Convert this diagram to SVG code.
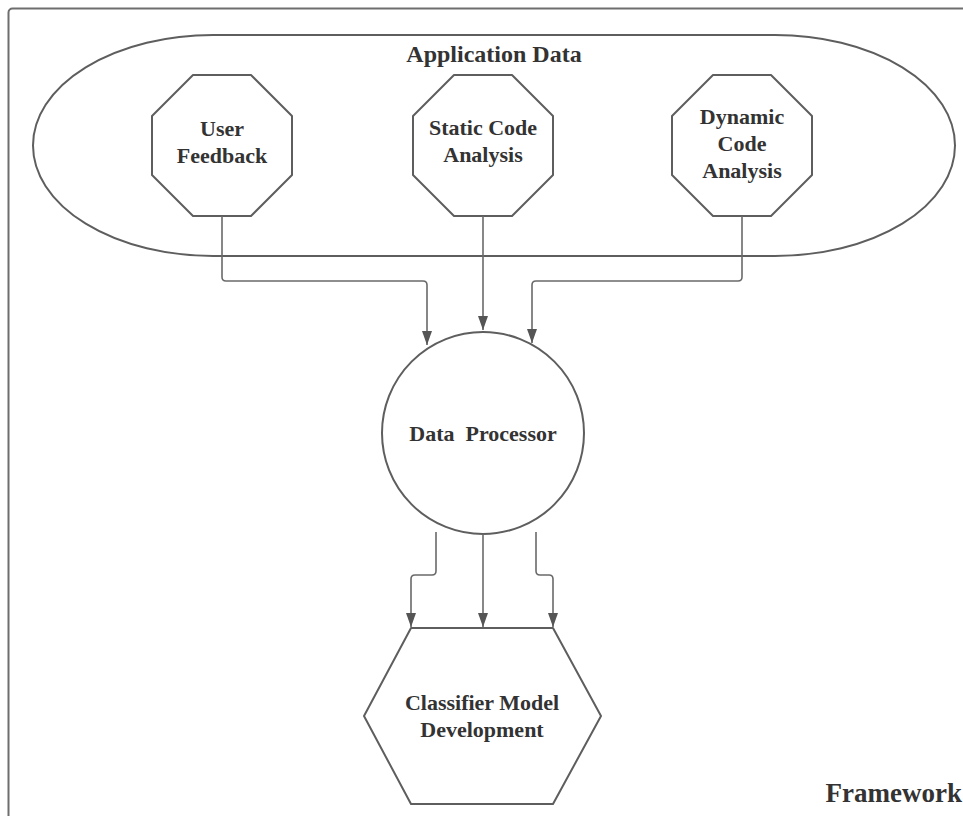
<svg xmlns="http://www.w3.org/2000/svg" width="963" height="816" viewBox="0 0 963 816">
<defs>
<style>
.shape{fill:#fff;stroke:#5e5e5e;stroke-width:2;stroke-linejoin:round}
.edge{fill:none;stroke:#6a6a6a;stroke-width:1.6}
.lbl{font-family:"Liberation Serif","Times New Roman",serif;font-weight:bold;fill:#333;text-anchor:middle}
.nl{font-size:22px}
</style>
<marker id="ah" viewBox="0 0 14 10" refX="14" refY="5" markerWidth="14" markerHeight="10" markerUnits="userSpaceOnUse" orient="auto">
<path d="M0,0 L14,5 L0,10 Z" fill="#555"/>
</marker>
</defs>
<rect width="963" height="816" fill="#fff"/>
<g id="framework">
<rect x="8.5" y="8.5" width="1000" height="900" rx="4" fill="none" stroke="#6e6e6e" stroke-width="2"/>
<text class="lbl" x="962" y="802" style="text-anchor:end;font-size:27px">Framework</text>
</g>
<g id="application-data">
<path class="shape" d="M213,35 H775 A180,110.5 0 0 1 775,256 H213 A180,110.5 0 0 1 213,35 Z"/>
<text class="lbl" x="494" y="62" style="font-size:24px">Application Data</text>
</g>
<g id="user-feedback">
<polygon class="shape" points="193,75 251,75 292,116 292,175 251,216 193,216 152,175 152,116"/>
<text class="lbl nl" x="222" y="136">User</text>
<text class="lbl nl" x="222" y="163">Feedback</text>
</g>
<g id="static-code-analysis">
<polygon class="shape" points="454,75 512,75 553,116 553,175 512,216 454,216 413,175 413,116"/>
<text class="lbl nl" x="483" y="135">Static Code</text>
<text class="lbl nl" x="483" y="162">Analysis</text>
</g>
<g id="dynamic-code-analysis">
<polygon class="shape" points="713,75 771,75 812,116 812,175 771,216 713,216 672,175 672,116"/>
<text class="lbl nl" x="742" y="124">Dynamic</text>
<text class="lbl nl" x="742" y="151">Code</text>
<text class="lbl nl" x="742" y="178">Analysis</text>
</g>
<g id="data-processor">
<circle class="shape" cx="483" cy="433" r="101"/>
<text class="lbl" x="483" y="441" style="font-size:22px" xml:space="preserve">Data  Processor</text>
</g>
<g id="classifier-model-development">
<polygon class="shape" points="411,628 553,628 601,716 553,804 411,804 364,716"/>
<text class="lbl nl" x="482" y="710">Classifier Model</text>
<text class="lbl nl" x="482" y="737">Development</text>
</g>
<g id="connectors">
<path class="edge" d="M222,216 V277 Q222,281 226,281 H423 Q427,281 427,285 V345" marker-end="url(#ah)"/>
<path class="edge" d="M483,216 V330" marker-end="url(#ah)"/>
<path class="edge" d="M742,216 V277 Q742,281 738,281 H536 Q532,281 532,285 V343" marker-end="url(#ah)"/>
<path class="edge" d="M436,532 V571 Q436,575 432,575 H415 Q411,575 411,579 V627" marker-end="url(#ah)"/>
<path class="edge" d="M483,534 V627" marker-end="url(#ah)"/>
<path class="edge" d="M536,532 V571 Q536,575 540,575 H549 Q553,575 553,579 V627" marker-end="url(#ah)"/>
</g>
</svg>
